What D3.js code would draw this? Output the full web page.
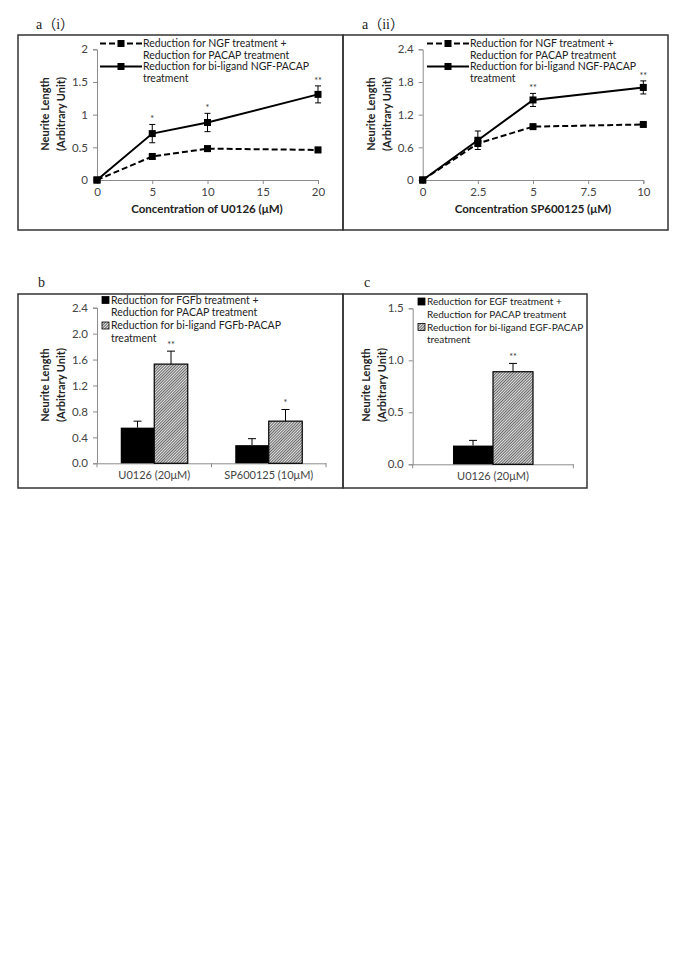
<!DOCTYPE html>
<html>
<head>
<meta charset="utf-8">
<script src="https://cdn.jsdelivr.net/npm/d3@7"></script>
<style>
  body { margin: 0; background: #fff; }
  svg text { font-family: Lato, "Open Sans", sans-serif; }
</style>
</head>
<body>
<div id="chart"></div>
<script>
// ---- data ----
// a(i): U0126
var a1Conc = [0, 5, 10, 20];
var a1Sum = [0, 0.36, 0.48, 0.46];
var a1SumErr = [0, 0.04, 0.04, 0.04];
var a1Bi = [0, 0.71, 0.88, 1.31];
var a1BiErr = [0, 0.14, 0.14, 0.13];
var a1Stars = ["", "*", "*", "**"];
var a1XTicks = [0, 5, 10, 15, 20];
var a1YTicks = [0, 0.5, 1, 1.5, 2];

// a(ii): SP600125
var a2Conc = [0, 2.5, 5, 10];
var a2Sum = [0, 0.67, 0.98, 1.02];
var a2SumErr = [0, 0.03, 0.03, 0.03];
var a2Bi = [0, 0.73, 1.47, 1.70];
var a2BiErr = [0, 0.17, 0.12, 0.12];
var a2Stars = ["", "", "**", "**"];
var a2XTicks = [0, 2.5, 5, 7.5, 10];
var a2YTicks = [0, 0.6, 1.2, 1.8, 2.4];

// b: FGFb
var bCats = ["U0126 (20μM)", "SP600125 (10μM)"];
var bSum = [0.55, 0.28];
var bSumErr = [0.10, 0.10];
var bBi = [1.53, 0.65];
var bBiErr = [0.20, 0.18];
var bStars = ["**", "*"];
var bYTicks = [0, 0.4, 0.8, 1.2, 1.6, 2.0, 2.4];

// c: EGF
var cCats = ["U0126 (20μM)"];
var cSum = [0.18];
var cSumErr = [0.05];
var cBi = [0.89];
var cBiErr = [0.08];
var cStars = ["**"];
var cYTicks = [0, 0.5, 1.0, 1.5];

var svg = d3.select("#chart").append("svg")
  .attr("width", 685).attr("height", 968);

// hatch pattern for bi-ligand bars
var defs = svg.append("defs");
var pat = defs.append("pattern")
  .attr("id", "hatch")
  .attr("patternUnits", "userSpaceOnUse")
  .attr("width", 2).attr("height", 2)
  .attr("patternTransform", "rotate(45)");
pat.append("rect").attr("width", 2).attr("height", 2).attr("fill", "#e2e2e2");
pat.append("rect").attr("width", 0.9).attr("height", 2).attr("fill", "#5a5a5a");

var axisColor = "#8c8c8c";
var tickColor = "#444";

function panelLabel(txt, x, y) {
  svg.append("text")
    .attr("x", x).attr("y", y)
    .style("font-family", "'Liberation Serif', 'Noto Sans CJK JP', serif")
    .style("font-size", "14px")
    .attr("fill", "#222")
    .text(txt);
}

function box(x0, y0, x1, y1) {
  svg.append("rect")
    .attr("x", x0).attr("y", y0)
    .attr("width", x1 - x0).attr("height", y1 - y0)
    .attr("fill", "none")
    .attr("stroke", "#333")
    .attr("stroke-width", 1.5);
}

function styleAxis(g) {
  g.select(".domain").attr("stroke", axisColor);
  g.selectAll(".tick line").attr("stroke", axisColor);
  g.selectAll(".tick text")
    .attr("fill", tickColor)
    .style("font-size", "11.5px");
}

function yLabel(cx, cy, gap) {
  var t = svg.append("text")
    .attr("transform", "translate(" + cx + "," + cy + ") rotate(-90)")
    .attr("text-anchor", "middle")
    .style("font-size", "11px")
    .style("font-weight", "bold")
    .attr("fill", "#222");
  t.append("tspan").attr("x", 0).attr("dy", 0).text("Neurite Length");
  t.append("tspan").attr("x", 0).attr("dy", gap).text("(Arbitrary Unit)");
}

// line panel
function linePanel(o) {
  var x = d3.scaleLinear().domain(o.xDomain).range(o.xRange);
  var y = d3.scaleLinear().domain(o.yDomain).range(o.yRange);

  var ya = svg.append("g")
    .attr("transform", "translate(" + o.xRange[0] + ",0)")
    .call(d3.axisLeft(y).tickValues(o.yTicks).tickSize(4).tickPadding(5)
      .tickFormat(d3.format("")));
  styleAxis(ya);

  var xa = svg.append("g")
    .attr("transform", "translate(0," + o.yRange[0] + ")")
    .call(d3.axisBottom(x).tickValues(o.xTicks).tickSize(4).tickPadding(4)
      .tickFormat(d3.format("")));
  styleAxis(xa);

  svg.append("text")
    .attr("x", o.xLabelX).attr("y", o.yRange[0] + 33)
    .attr("text-anchor", "middle")
    .style("font-size", "11.5px")
    .style("font-weight", "bold")
    .attr("fill", "#222")
    .text(o.xLabel);

  var series = [
    { v: o.sum, e: o.sumErr, dash: "6,3" },
    { v: o.bi, e: o.biErr, dash: null }
  ];

  series.forEach(function(s) {
    var pts = o.conc.map(function(c, i) { return { c: c, v: s.v[i], e: s.e[i] }; });
    svg.append("path")
      .datum(pts)
      .attr("fill", "none")
      .attr("stroke", "#000")
      .attr("stroke-width", 2)
      .attr("stroke-dasharray", s.dash)
      .attr("d", d3.line().x(function(d) { return x(d.c); }).y(function(d) { return y(d.v); }));

    var eb = svg.append("g").selectAll("g").data(pts.filter(function(d) { return d.e > 0; }))
      .enter().append("g");
    eb.append("line")
      .attr("x1", function(d) { return x(d.c); }).attr("x2", function(d) { return x(d.c); })
      .attr("y1", function(d) { return y(d.v - d.e); }).attr("y2", function(d) { return y(d.v + d.e); })
      .attr("stroke", "#000").attr("stroke-width", 1);
    [-1, 1].forEach(function(sg) {
      eb.append("line")
        .attr("x1", function(d) { return x(d.c) - 3; }).attr("x2", function(d) { return x(d.c) + 3; })
        .attr("y1", function(d) { return y(d.v + sg * d.e); }).attr("y2", function(d) { return y(d.v + sg * d.e); })
        .attr("stroke", "#000").attr("stroke-width", 1);
    });

    svg.append("g").selectAll("rect").data(pts).enter().append("rect")
      .attr("x", function(d) { return x(d.c) - 3.5; })
      .attr("y", function(d) { return y(d.v) - 3.5; })
      .attr("width", 7).attr("height", 7)
      .attr("fill", "#000");
  });

  // significance stars above bi-ligand
  svg.append("g").selectAll("text").data(o.conc).enter().append("text")
    .attr("x", function(d) { return x(d); })
    .attr("y", function(d, i) { return y(o.bi[i] + o.biErr[i]) - 2; })
    .attr("text-anchor", "middle")
    .style("font-size", "9px")
    .attr("fill", "#333")
    .text(function(d, i) { return o.stars[i]; });

  // legend
  var lx0 = o.legX, lx1 = o.legX + 42, ly = o.legY;
  var leg = [
    { dash: "6,3", lines: [o.leg1a, o.leg1b], y: ly },
    { dash: null, lines: [o.leg2a, o.leg2b], y: ly + 23 }
  ];
  leg.forEach(function(l) {
    svg.append("line")
      .attr("x1", lx0).attr("x2", lx1)
      .attr("y1", l.y).attr("y2", l.y)
      .attr("stroke", "#000").attr("stroke-width", 2)
      .attr("stroke-dasharray", l.dash);
    svg.append("rect")
      .attr("x", (lx0 + lx1) / 2 - 3.5).attr("y", l.y - 3.5)
      .attr("width", 7).attr("height", 7).attr("fill", "#000");
    var t = svg.append("text")
      .attr("x", lx1 + 1).attr("y", l.y + 3.8)
      .style("font-size", "10.5px")
      .attr("fill", "#222");
    t.append("tspan").attr("x", lx1 + 1).attr("dy", 0).text(l.lines[0]);
    t.append("tspan").attr("x", lx1 + 1).attr("dy", 11.7).text(l.lines[1]);
  });
}

// bar panel
function barPanel(o) {
  var x = d3.scaleBand().domain(o.cats).range(o.xRange);
  var y = d3.scaleLinear().domain(o.yDomain).range(o.yRange);
  var bw = o.barW;

  var ya = svg.append("g")
    .attr("transform", "translate(" + o.xRange[0] + ",0)")
    .call(d3.axisLeft(y).tickValues(o.yTicks).tickSize(4).tickPadding(5)
      .tickFormat(d3.format(".1f")));
  styleAxis(ya);

  var xa = svg.append("g")
    .attr("transform", "translate(0," + o.yRange[0] + ")")
    .call(d3.axisBottom(x).tickSize(0).tickPadding(8));
  styleAxis(xa);
  // category boundary ticks
  var bounds = o.cats.map(function(c) { return x(c); }).concat([o.xRange[1]]);
  xa.selectAll(".bnd").data(bounds).enter().append("line")
    .attr("x1", function(d) { return d; }).attr("x2", function(d) { return d; })
    .attr("y1", 0).attr("y2", 4)
    .attr("stroke", axisColor);
  xa.selectAll(".tick text").style("font-size", "11px");

  var rows = o.cats.map(function(c, i) {
    return { c: c, s: o.sum[i], se: o.sumErr[i], b: o.bi[i], be: o.biErr[i], st: o.stars[i] };
  });
  var g = svg.append("g").selectAll("g").data(rows).enter().append("g");
  var cx = function(d) { return x(d.c) + x.bandwidth() / 2; };

  // error bars (upper only)
  function err(sel, xf, vf, ef) {
    sel.append("line")
      .attr("x1", xf).attr("x2", xf)
      .attr("y1", function(d) { return y(vf(d)); })
      .attr("y2", function(d) { return y(vf(d) + ef(d)); })
      .attr("stroke", "#000").attr("stroke-width", 1);
    sel.append("line")
      .attr("x1", function(d) { return xf(d) - 4; }).attr("x2", function(d) { return xf(d) + 4; })
      .attr("y1", function(d) { return y(vf(d) + ef(d)); })
      .attr("y2", function(d) { return y(vf(d) + ef(d)); })
      .attr("stroke", "#000").attr("stroke-width", 1);
  }

  err(g, function(d) { return cx(d) - bw / 2; }, function(d) { return d.s; }, function(d) { return d.se; });
  err(g, function(d) { return cx(d) + bw / 2; }, function(d) { return d.b; }, function(d) { return d.be; });

  g.append("rect")
    .attr("x", function(d) { return cx(d) - bw; })
    .attr("y", function(d) { return y(d.s); })
    .attr("width", bw)
    .attr("height", function(d) { return y(0) - y(d.s); })
    .attr("fill", "#000");
  g.append("rect")
    .attr("x", function(d) { return cx(d); })
    .attr("y", function(d) { return y(d.b); })
    .attr("width", bw)
    .attr("height", function(d) { return y(0) - y(d.b); })
    .attr("fill", "url(#hatch)")
    .attr("stroke", "#000").attr("stroke-width", 1.2);

  g.append("text")
    .attr("x", function(d) { return cx(d) + bw / 2; })
    .attr("y", function(d) { return y(d.b + d.be) - 3; })
    .attr("text-anchor", "middle")
    .style("font-size", "9px")
    .attr("fill", "#333")
    .text(function(d) { return d.st; });

  // legend
  var leg = [
    { fill: "#000", lines: [o.leg1a, o.leg1b], y: o.legY },
    { fill: "url(#hatch)", lines: [o.leg2a, o.leg2b], y: o.legY + 25.5 }
  ];
  leg.forEach(function(l) {
    svg.append("rect")
      .attr("x", o.legX).attr("y", l.y - 3.5)
      .attr("width", 7).attr("height", 7)
      .attr("fill", l.fill)
      .attr("stroke", "#000").attr("stroke-width", 0.8);
    var t = svg.append("text")
      .attr("x", o.legX + 9).attr("y", l.y + 3.8)
      .style("font-size", o.legFont)
      .attr("fill", "#222");
    t.append("tspan").attr("x", o.legX + 9).attr("dy", 0).text(l.lines[0]);
    t.append("tspan").attr("x", o.legX + 9).attr("dy", 12.3).text(l.lines[1]);
  });
}

// ---- a(i) ----
panelLabel("a（i）", 36, 29);
box(18, 35, 343, 230);
yLabel(49, 114, 16);
linePanel({
  conc: a1Conc, sum: a1Sum, sumErr: a1SumErr, bi: a1Bi, biErr: a1BiErr, stars: a1Stars,
  xDomain: [0, 20], xRange: [97, 318], yDomain: [0, 2], yRange: [180, 49.3],
  xTicks: a1XTicks, yTicks: a1YTicks,
  xLabel: "Concentration of U0126 (μM)", xLabelX: 207,
  legX: 100, legY: 43.5,
  leg1a: "Reduction for NGF treatment +", leg1b: "Reduction for PACAP treatment",
  leg2a: "Reduction for bi-ligand NGF-PACAP", leg2b: "treatment"
});

// ---- a(ii) ----
panelLabel("a（ii）", 362, 29);
box(343, 35, 668, 230);
yLabel(375, 114, 16);
linePanel({
  conc: a2Conc, sum: a2Sum, sumErr: a2SumErr, bi: a2Bi, biErr: a2BiErr, stars: a2Stars,
  xDomain: [0, 10], xRange: [422.7, 643.3], yDomain: [0, 2.4], yRange: [180, 49.3],
  xTicks: a2XTicks, yTicks: a2YTicks,
  xLabel: "Concentration SP600125 (μM)", xLabelX: 533,
  legX: 427, legY: 43.5,
  leg1a: "Reduction for NGF treatment +", leg1b: "Reduction for PACAP treatment",
  leg2a: "Reduction for bi-ligand NGF-PACAP", leg2b: "treatment"
});

// ---- b ----
panelLabel("b", 38, 287);
box(18, 294, 343, 488);
yLabel(49, 385, 16);
barPanel({
  cats: bCats, sum: bSum, sumErr: bSumErr, bi: bBi, biErr: bBiErr, stars: bStars,
  xRange: [97, 326], yDomain: [0, 2.4], yRange: [463.3, 307.7], yTicks: bYTicks,
  barW: 33.5, legX: 102, legY: 300, legFont: "10.5px",
  leg1a: "Reduction for FGFb treatment +", leg1b: "Reduction for PACAP treatment",
  leg2a: "Reduction for bi-ligand FGFb-PACAP", leg2b: "treatment"
});

// ---- c ----
panelLabel("c", 364, 287);
box(343, 294, 587, 488);
yLabel(370, 385, 16);
barPanel({
  cats: cCats, sum: cSum, sumErr: cSumErr, bi: cBi, biErr: cBiErr, stars: cStars,
  xRange: [412.7, 573.3], yDomain: [0, 1.5], yRange: [464.3, 308.3], yTicks: cYTicks,
  barW: 40, legX: 418, legY: 301.5, legFont: "10px",
  leg1a: "Reduction for EGF treatment +", leg1b: "Reduction for PACAP treatment",
  leg2a: "Reduction for bi-ligand EGF-PACAP", leg2b: "treatment"
});
</script>
</body>
</html>
